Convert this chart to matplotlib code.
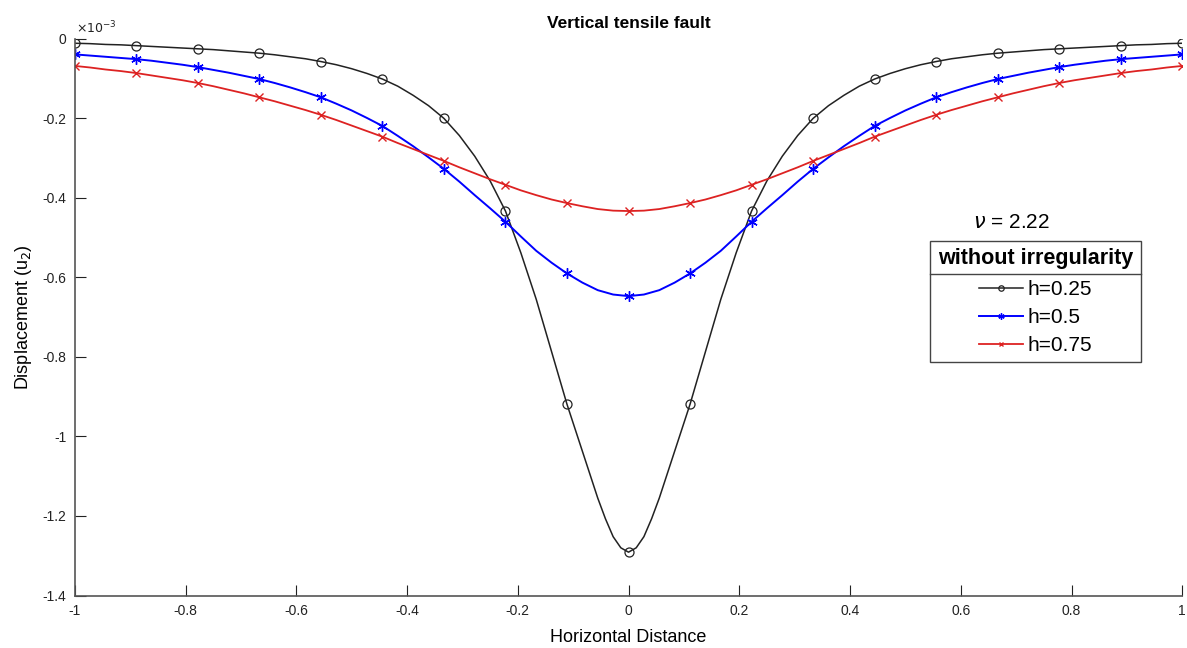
import numpy as np
import matplotlib
matplotlib.use('Agg')
import matplotlib.pyplot as plt
from matplotlib.patches import Rectangle

plt.rcParams['font.family'] = ['Liberation Sans', 'DejaVu Sans']

# horizontal distance on a 1/36 grid, markers sit every 1/9
x = np.linspace(-1, 1, 73)
# the h=0.25 curve gets a few extra points around its sharp minimum
x_h025 = np.sort(np.concatenate([x, [-1.5 / 36, -0.5 / 36, 0.5 / 36, 1.5 / 36]]))

# displacement u2 (x 1e-3)
u_h025 = [-0.011, -0.012, -0.014, -0.015, -0.017, -0.019, -0.021, -0.023, -0.025, -0.027,
          -0.030, -0.033, -0.036, -0.040, -0.045, -0.050, -0.057, -0.065, -0.075, -0.087,
          -0.101, -0.119, -0.142, -0.168, -0.200, -0.243, -0.295, -0.357, -0.433, -0.538,
          -0.655, -0.787, -0.919, -1.037, -1.155, -1.207, -1.252, -1.280, -1.291,
          -1.280, -1.252, -1.207, -1.155, -1.037, -0.919, -0.787, -0.655, -0.538, -0.433,
          -0.357, -0.295, -0.243, -0.200, -0.168, -0.142, -0.119, -0.101, -0.087, -0.075,
          -0.065, -0.057, -0.050, -0.045, -0.040, -0.036, -0.033, -0.030, -0.027, -0.025,
          -0.023, -0.021, -0.019, -0.017, -0.015, -0.014, -0.012, -0.011]
u_h05 = [-0.039, -0.042, -0.045, -0.048, -0.051, -0.055, -0.060, -0.065, -0.071, -0.078,
         -0.085, -0.093, -0.101, -0.111, -0.122, -0.134, -0.147, -0.163, -0.180, -0.199,
         -0.219, -0.244, -0.270, -0.298, -0.327, -0.359, -0.393, -0.426, -0.460, -0.497,
         -0.533, -0.563, -0.590, -0.613, -0.632, -0.643, -0.647,
         -0.643, -0.632, -0.613, -0.590, -0.563, -0.533, -0.497, -0.460, -0.426, -0.393,
         -0.359, -0.327, -0.298, -0.270, -0.244, -0.219, -0.199, -0.180, -0.163, -0.147,
         -0.134, -0.122, -0.111, -0.101, -0.093, -0.085, -0.078, -0.071, -0.065, -0.060,
         -0.055, -0.051, -0.048, -0.045, -0.042, -0.039]
u_h075 = [-0.068, -0.072, -0.077, -0.081, -0.086, -0.092, -0.098, -0.104, -0.111, -0.119,
          -0.128, -0.137, -0.147, -0.157, -0.168, -0.179, -0.191, -0.204, -0.218, -0.232,
          -0.246, -0.262, -0.277, -0.292, -0.307, -0.323, -0.338, -0.353, -0.367, -0.381,
          -0.393, -0.404, -0.413, -0.421, -0.428, -0.432, -0.433,
          -0.432, -0.428, -0.421, -0.413, -0.404, -0.393, -0.381, -0.367, -0.353, -0.338,
          -0.323, -0.307, -0.292, -0.277, -0.262, -0.246, -0.232, -0.218, -0.204, -0.191,
          -0.179, -0.168, -0.157, -0.147, -0.137, -0.128, -0.119, -0.111, -0.104, -0.098,
          -0.092, -0.086, -0.081, -0.077, -0.072, -0.068]

labels = ['h=0.25', 'h=0.5', 'h=0.75']
xticks = [-1, -0.8, -0.6, -0.4, -0.2, 0, 0.2, 0.4, 0.6, 0.8, 1]
xticklabels = ['-1', '-0.8', '-0.6', '-0.4', '-0.2', '0', '0.2', '0.4', '0.6', '0.8', '1']
yticks = [0, -0.2, -0.4, -0.6, -0.8, -1, -1.2, -1.4]
yticklabels = ['0', '-0.2', '-0.4', '-0.6', '-0.8', '-1', '-1.2', '-1.4']


def marker_idx(xs):
    # indices of the points that lie on the 1/9 marker grid
    return [i for i, v in enumerate(xs) if abs(v * 9 - round(v * 9)) < 1e-6]


fig = plt.figure(figsize=(11.87, 6.48), dpi=100)
ax = fig.add_axes([0.063, 0.081, 0.933, 0.859])

asterisk = (6, 2, 0)
ax.plot(x_h025, u_h025, '-', marker='o', color='#222222', lw=1.1, ms=6.5, mfc='none',
        mew=0.9, markevery=marker_idx(x_h025), label=labels[0])
ax.plot(x, u_h05, '-', marker=asterisk, color='#0000ff', lw=1.4, ms=7.5, mew=1.0,
        markevery=marker_idx(x), label=labels[1])
ax.plot(x, u_h075, '-', marker='x', color='#dd2222', lw=1.3, ms=6, mew=1.0,
        markevery=marker_idx(x), label=labels[2])

ax.set_xlim(-1, 1)
ax.set_ylim(-1.4, 0)
ax.set_xticks(xticks)
ax.set_xticklabels(xticklabels)
ax.set_yticks(yticks)
ax.set_yticklabels(yticklabels)
ax.tick_params(direction='in', length=8, width=0.8, labelsize=10, colors='#222222', pad=6)
for s in ['top', 'right']:
    ax.spines[s].set_visible(False)
for s in ['left', 'bottom']:
    ax.spines[s].set_color('#555555')
    ax.spines[s].set_linewidth(1.2)

ax.set_title('Vertical tensile fault', fontsize=12.5, fontweight='bold', pad=8)
ax.set_xlabel('Horizontal Distance', fontsize=13, labelpad=8)
ax.set_ylabel('Displacement (u$_2$)', fontsize=13, labelpad=6)
ax.text(0.001, 1.004, r'$\times10^{-3}$', transform=ax.transAxes, fontsize=9,
        ha='left', va='bottom', color='#222222')

ax.text(0.846, 0.671, r'$\nu$ = 2.22', transform=ax.transAxes, fontsize=15,
        ha='center', va='center')

# legend box: frame, bold title, separator line, then the entries
bx0, bx1, by0, by1 = 0.7724, 0.963, 0.4196, 0.637
ax.add_patch(Rectangle((bx0, by0), bx1 - bx0, by1 - by0, transform=ax.transAxes,
                       fill=True, facecolor='white', edgecolor='#444444', lw=1.0,
                       zorder=5))
ax.text((bx0 + bx1) / 2, 0.6047, 'without irregularity', transform=ax.transAxes,
        fontsize=15.5, fontweight='bold', ha='center', va='center', zorder=6)
ax.plot([bx0, bx1], [0.5777, 0.5777], transform=ax.transAxes, color='#444444',
        lw=1.0, zorder=6)
leg = ax.legend(loc='upper center', bbox_to_anchor=((bx0 + bx1) / 2, 0.566),
                fontsize=15, frameon=False, borderaxespad=0, borderpad=0,
                handlelength=2.1, handletextpad=0.25, labelspacing=0.42,
                markerscale=0.6)
leg.set_zorder(7)

fig.savefig('out.png', dpi=100)
